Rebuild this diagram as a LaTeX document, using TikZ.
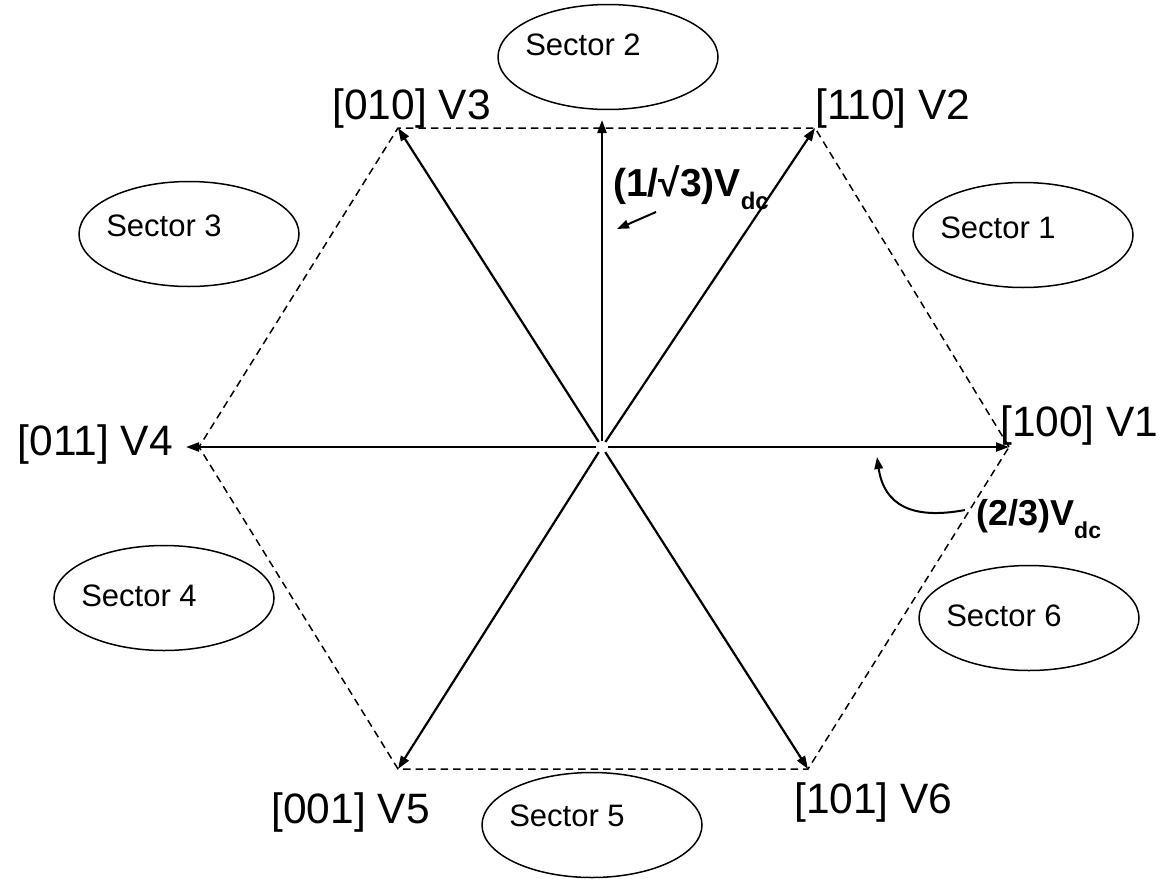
\documentclass[tikz,border=0pt]{standalone}
\usepackage{fontspec}
\setmainfont{Liberation Sans}
\usetikzlibrary{arrows.meta,shapes.geometric,calc}
\begin{document}
\begin{tikzpicture}[x=1pt,y=-1pt,
  vec/.style={line width=2.2pt, -{Triangle[length=13pt,width=9pt]}, shorten <=6pt},
  hexedge/.style={line width=1.5pt, dash pattern=on 7.5pt off 5pt},
  sectorell/.style={draw, ellipse, line width=1.5pt, minimum width=220pt, minimum height=105pt, inner sep=0pt},
  sectortxt/.style={font=\fontsize{31}{31}\selectfont, inner sep=0pt},
  vlabel/.style={font=\fontsize{42.5}{42.5}\selectfont, inner sep=0pt},
  maglabel/.style={font=\bfseries\fontsize{36}{36}\selectfont, inner sep=0pt},
  pointer/.style={line width=2pt, -{Triangle[length=12pt,width=8.5pt]}}
]
\useasboundingbox (0,0) rectangle (1166,878);
% centre and vertices
\coordinate (O) at (602,447);
\coordinate (V1) at (1009,447);
\coordinate (V2) at (815,128);
\coordinate (V3) at (398,128);
\coordinate (V4) at (199,447);
\coordinate (V5) at (398,769);
\coordinate (V6) at (808,769);
\coordinate (V4tip) at (186,447);
\coordinate (T) at (602,120);
% dashed hexagon
\draw[hexedge] (V1) -- (V2) -- (V3) -- (V4) -- (V5) -- (V6) -- cycle;
% vectors
\draw[vec] (O) -- (V1);
\draw[vec] (O) -- (V2);
\draw[vec] (O) -- (V3);
\draw[vec] (O) -- (V4tip);
\draw[vec] (O) -- (V5);
\draw[vec] (O) -- (V6);
\draw[vec] (O) -- (T);
% vertex labels
\node[vlabel, anchor=base east] (l3) at (491,119) {[010] V3};
\node[vlabel, anchor=base west] (l2) at (815,119) {[110] V2};
\node[vlabel, anchor=base west] (l1) at (1000,436) {[100] V1};
\node[vlabel, anchor=base east] (l4) at (173,455) {[011] V4};
\node[vlabel, anchor=base east] (l5) at (430,823) {[001] V5};
\node[vlabel, anchor=base west] (l6) at (794,813) {[101] V6};
% sectors
\node[sectorell] (s1) at (1023,235) {};
\node[sectortxt] (t1) at ($(s1)+(-25,-7)$) {Sector 1};
\node[sectorell] (s2) at (608,57) {};
\node[sectortxt] (t2) at ($(s2)+(-25,-12)$) {Sector 2};
\node[sectorell] (s3) at (189,234) {};
\node[sectortxt] (t3) at ($(s3)+(-25,-8)$) {Sector 3};
\node[sectorell] (s4) at (164,598) {};
\node[sectortxt] (t4) at ($(s4)+(-25,-2)$) {Sector 4};
\node[sectorell] (s5) at (592,825) {};
\node[sectortxt] (t5) at ($(s5)+(-25,-9)$) {Sector 5};
\node[sectorell] (s6) at (1029,618) {};
\node[sectortxt] (t6) at ($(s6)+(-25,-2)$) {Sector 6};
% magnitude labels
\node[maglabel, anchor=base west, font=\bfseries\fontsize{39}{39}\selectfont] (m1) at (613,196) {(1/√3)V\raisebox{-13pt}{\fontsize{24}{24}\selectfont dc}};
\node[maglabel, anchor=base west] (m2) at (976,525) {(2/3)V\raisebox{-13pt}{\fontsize{23}{23}\selectfont dc}};
% pointers
\coordinate (p1s) at (656,212);
\coordinate (p1e) at (617,229);
\draw[pointer] (p1s) -- (p1e);
\coordinate (p2s) at (965,510);
\coordinate (p2e) at (877,457);
\draw[pointer] (p2s) .. controls (912,520) and (884,505) .. (p2e);
\end{tikzpicture}
\end{document}
